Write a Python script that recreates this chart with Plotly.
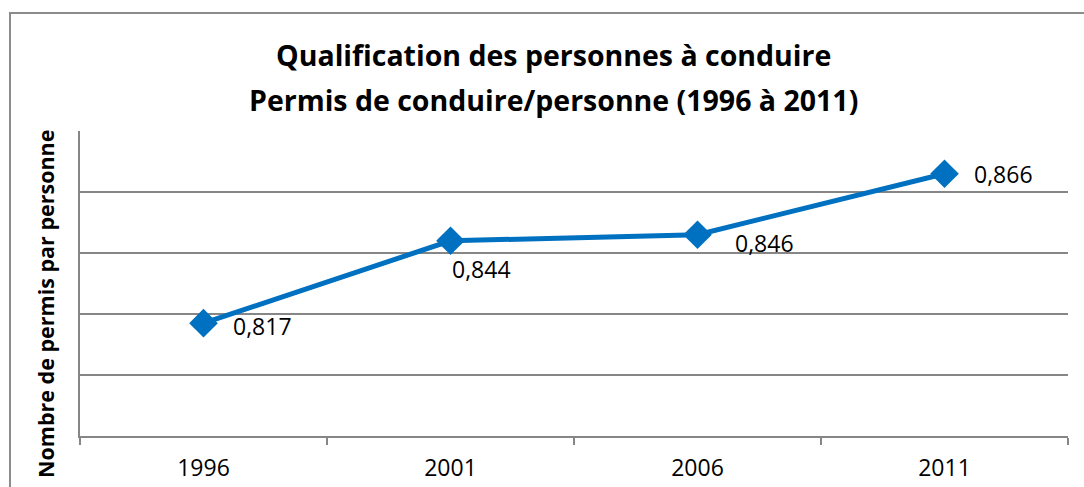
import plotly.graph_objects as go

years = ["1996", "2001", "2006", "2011"]
values = [0.817, 0.844, 0.846, 0.866]
labels = ["0,817", "0,844", "0,846", "0,866"]
title_lines = ["Qualification des personnes à conduire",
               "Permis de conduire/personne (1996 à 2011)"]
y_title = "Nombre de permis par personne"

W, H = 1084, 487
L, R, T, B = 80, 16, 131, 51
pw, ph = W - L - R, H - T - B

FONT = "Open Sans"
BLUE = "#0070C0"
GRAY = "#868686"

fig = go.Figure()
fig.add_trace(go.Scatter(
    x=years, y=values, mode="lines+markers",
    line=dict(color=BLUE, width=5),
    marker=dict(symbol="diamond", size=22, color=BLUE),
    hoverinfo="skip", showlegend=False,
))

# data labels offsets (px)
offsets = [(27, -3), (-1, -28), (35, -8), (27, 0)]
for i, (v, lab, (dx, dy)) in enumerate(zip(values, labels, offsets)):
    fig.add_annotation(x=i, y=v, xref="x", yref="y", text=lab, showarrow=False,
                       xanchor="left", yanchor="middle", xshift=dx, yshift=dy,
                       font=dict(family=FONT, size=23, color="#000000"))

def px_x(x):
    return (x - L) / pw

def px_y(y):
    return (H - B - y) / ph

for line, yc in zip(title_lines, [55, 100]):
    fig.add_annotation(x=px_x(553), y=px_y(yc), xref="paper", yref="paper",
                       text="<b>%s</b>" % line, showarrow=False,
                       xanchor="center", yanchor="middle",
                       font=dict(family=FONT, size=28.5, color="#000000"))

fig.add_annotation(x=px_x(45), y=px_y(304), xref="paper", yref="paper",
                   text="<b>%s</b>" % y_title, showarrow=False, textangle=-90,
                   xanchor="center", yanchor="middle",
                   font=dict(family=FONT, size=21.5, color="#000000"))

# outer chart border
fig.add_shape(type="rect", xref="paper", yref="paper",
              x0=px_x(10), x1=px_x(1100), y0=px_y(500), y1=px_y(13),
              line=dict(color="#8c8c8c", width=2), layer="below")

fig.update_xaxes(type="category", tickson="boundaries", ticks="outside",
                 ticklen=7, tickcolor=GRAY, tickwidth=2,
                 showline=True, linecolor=GRAY, linewidth=2,
                 showgrid=False, range=[-0.5, 3.5], ticklabelstandoff=10,
                 automargin=False,
                 tickfont=dict(family=FONT, size=23, color="#000000"))
fig.update_yaxes(range=[0.78, 0.88], dtick=0.02, tick0=0.78,
                 showticklabels=False, showgrid=True, gridcolor=GRAY,
                 gridwidth=1.5, showline=True, linecolor=GRAY, linewidth=2,
                 zeroline=False, ticks="", automargin=False)

fig.update_layout(width=W, height=H, margin=dict(l=L, r=R, t=T, b=B),
                  paper_bgcolor="white", plot_bgcolor="white",
                  font=dict(family=FONT))
fig.write_html("out.html", config={"displayModeBar": False},
               post_script="document.body.style.margin='0';document.body.style.overflow='hidden';")
